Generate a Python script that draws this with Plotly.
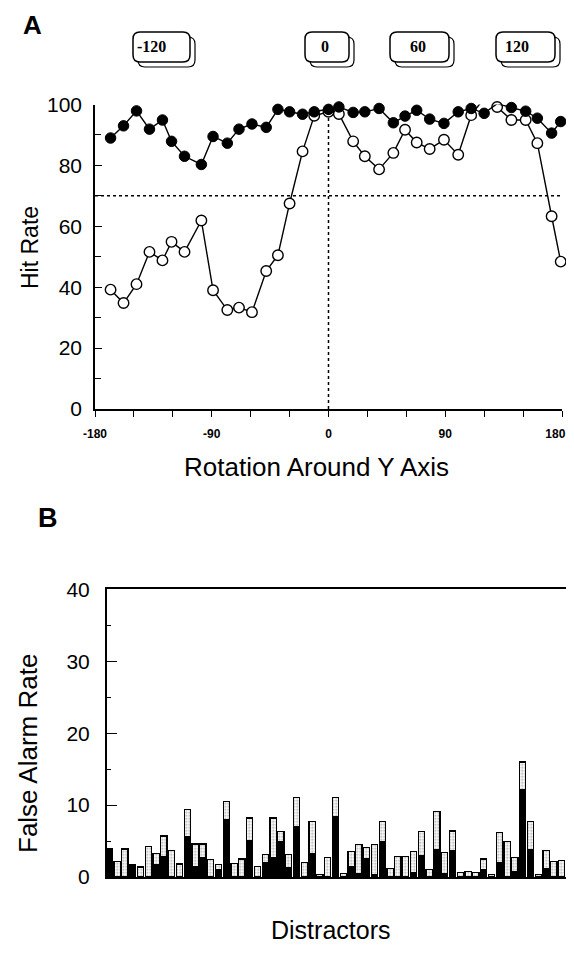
import plotly.graph_objects as go

W, H = 574, 942
OFF = 8  # page body margin of the html page

def fx(p):
    return (p - OFF) / W

def fy(p):
    return 1 - (p - OFF) / H

# ---------------- Panel A data ----------------
angles = [-168, -158, -148, -138, -128, -121, -111, -98, -89, -78, -69, -59,
          -48, -39, -30, -20, -11, 0, 8, 19, 28, 39, 50, 59,
          68, 78, 89, 100, 110, 120, 130, 141, 152, 161, 172, 179]
hit_filled = [89.0, 93.0, 97.9, 91.9, 94.9, 87.9, 83.0, 80.3, 89.5, 87.3, 91.9, 93.6,
              92.5, 98.4, 97.6, 96.8, 97.6, 98.4, 99.2, 97.4, 97.6, 98.7, 94.0, 96.2,
              98.1, 95.2, 93.8, 97.6, 98.7, 97.1, 100.3, 99.0, 97.8, 95.5, 90.6, 94.4]
hit_open = [39.2, 34.8, 41.0, 51.6, 48.8, 54.9, 51.6, 61.9, 39.0, 32.5, 33.3, 31.8,
            45.3, 50.5, 67.5, 84.6, 96.3, 97.6, 96.9, 87.9, 83.0, 78.7, 84.1, 91.7,
            87.5, 85.4, 88.4, 83.5, 96.5, 102.1, 99.2, 94.9, 94.9, 87.3, 63.3, 48.4]
x_ticks_a = [-180, -90, 0, 90, 180]
y_ticks_a = [0, 20, 40, 60, 80, 100]
view_labels = ["-120", "0", "60", "120"]

# ---------------- Panel B data ----------------
distractors = list(range(1, 61))
fa_total = [4.0, 2.2, 3.9, 1.7, 1.4, 4.2, 3.3, 5.7, 3.7, 1.8, 9.4, 4.6,
            4.6, 2.4, 1.7, 10.5, 1.9, 2.5, 8.2, 1.5, 3.1, 8.2, 6.3, 3.1,
            11.0, 2.0, 7.7, 0.4, 2.7, 11.0, 0.5, 3.5, 4.5, 4.1, 4.5, 7.7,
            1.2, 2.9, 2.9, 3.5, 6.3, 1.0, 9.1, 3.4, 6.4, 0.6, 0.8, 0.6,
            2.5, 0.4, 6.2, 4.9, 2.7, 16.0, 7.7, 0.3, 3.7, 2.2, 2.3, 11.1]
fa_black = [4.0, 0.0, 0.0, 1.7, 0.0, 0.0, 1.7, 2.8, 0.0, 0.0, 5.6, 1.5,
            2.7, 0.0, 1.0, 8.0, 0.0, 0.0, 5.0, 0.0, 2.0, 2.7, 4.9, 1.3,
            7.0, 0.0, 3.3, 0.0, 0.0, 8.4, 0.0, 1.5, 0.5, 2.5, 0.3, 4.9,
            0.0, 0.0, 0.0, 0.6, 3.0, 0.0, 3.8, 0.5, 3.7, 0.0, 0.0, 0.0,
            1.0, 0.0, 2.0, 0.0, 0.7, 12.1, 3.8, 0.0, 1.2, 0.0, 0.0, 8.0]
fa_dotted = [round(t - b, 2) for t, b in zip(fa_total, fa_black)]
y_ticks_b = [0, 10, 20, 30, 40]

FONT = "Liberation Sans, Arial, Helvetica, sans-serif"

fig = go.Figure()

fig.add_trace(go.Scatter(
    x=angles, y=hit_open, mode="lines+markers", xaxis="x", yaxis="y",
    line=dict(color="black", width=1.4),
    marker=dict(symbol="circle", size=10.5, color="white",
                line=dict(color="black", width=1.4)),
    cliponaxis=False, showlegend=False))
fig.add_trace(go.Scatter(
    x=angles, y=hit_filled, mode="lines+markers", xaxis="x", yaxis="y",
    line=dict(color="black", width=1.4),
    marker=dict(symbol="circle", size=10.5, color="black",
                line=dict(color="black", width=1)),
    cliponaxis=False, showlegend=False))

fig.add_trace(go.Bar(
    x=distractors, y=fa_black, xaxis="x2", yaxis="y2",
    marker=dict(color="black", line=dict(color="black", width=1)),
    width=0.8, showlegend=False))
fig.add_trace(go.Bar(
    x=distractors, y=fa_dotted, xaxis="x2", yaxis="y2",
    marker=dict(color="white", line=dict(color="black", width=1.2),
                pattern=dict(shape=".", fgcolor="#555555", bgcolor="white",
                             size=3, solidity=0.35)),
    width=0.8, showlegend=False))

# target pixel geometry (screen coordinates)
ax_l, ax_r = 95, 562
ay_top, ay_bot = 104.5, 409
bx_l = 106.7
by_top, by_bot = 589.3, 877
bar_step = 7.8
first_bar_px = 109.3
right_px = OFF + W
x2_lo = 1 - (first_bar_px - bx_l) / bar_step
x2_hi = x2_lo + (right_px - bx_l) / bar_step

# last tick label nudged left (trailing no-break spaces) so it stays on screen
x_tick_text = [f"<b>{v}</b>" for v in x_ticks_a]
x_tick_text[-1] = x_tick_text[-1] + "\u00a0" * 4

fig.update_layout(
    width=W, height=H, autosize=False,
    margin=dict(l=0, r=0, t=0, b=0, pad=0, autoexpand=False),
    paper_bgcolor="white", plot_bgcolor="white",
    font=dict(family=FONT, color="black"),
    barmode="stack", bargap=0.2,
    xaxis=dict(domain=[fx(ax_l), fx(ax_r)], range=[-180, 180], automargin=False,
               anchor="y", showgrid=False, zeroline=False,
               showline=True, linecolor="black", linewidth=1.5,
               tickvals=x_ticks_a, ticktext=x_tick_text,
               ticks="outside", ticklen=6, tickwidth=1.3,
               tickcolor="black", ticklabelstandoff=7,
               tickfont=dict(size=12, family=FONT, color="black"),
               minor=dict(dtick=30, tick0=0, ticks="outside", ticklen=6,
                          tickwidth=1.3, tickcolor="black", showgrid=False)),
    yaxis=dict(domain=[fy(ay_bot), fy(ay_top)], range=[0, 100], automargin=False,
               anchor="x", showgrid=False, zeroline=False,
               showline=True, linecolor="black", linewidth=1.5,
               tickvals=y_ticks_a, ticks="inside", ticklen=7, tickwidth=1.3,
               tickcolor="black", ticklabelstandoff=7,
               tickfont=dict(size=21, color="black"),
               minor=dict(dtick=10, tick0=0, ticks="inside", ticklen=6,
                          tickwidth=1.3, tickcolor="black", showgrid=False)),
    xaxis2=dict(domain=[fx(bx_l), 1.0], range=[x2_lo, x2_hi], automargin=False,
                anchor="y2", showgrid=False, zeroline=False,
                showline=True, linecolor="black", linewidth=1.5, mirror=True,
                showticklabels=False, ticks=""),
    yaxis2=dict(domain=[fy(by_bot), fy(by_top)], range=[0, 40], automargin=False,
                anchor="x2", showgrid=False, zeroline=False,
                showline=True, linecolor="black", linewidth=1.5,
                tickvals=y_ticks_b, ticks="inside", ticklen=11, tickwidth=1.3,
                tickcolor="black", ticklabelstandoff=11,
                tickfont=dict(size=21, color="black"),
                minor=dict(dtick=5, tick0=0, ticks="inside", ticklen=5,
                           tickwidth=1.3, tickcolor="black", showgrid=False)),
)

fig.add_shape(type="line", xref="x", yref="y", x0=-180, x1=180, y0=70, y1=70,
              line=dict(color="black", width=1.5, dash="dot"))
fig.add_shape(type="line", xref="x", yref="y", x0=0, x1=0, y0=0, y1=103,
              line=dict(color="black", width=1.5, dash="dot"))

def rrect(x0, y0, x1, y1, r):
    return (f"M {fx(x0 + r)},{fy(y0)} L {fx(x1 - r)},{fy(y0)} "
            f"Q {fx(x1)},{fy(y0)} {fx(x1)},{fy(y0 + r)} "
            f"L {fx(x1)},{fy(y1 - r)} Q {fx(x1)},{fy(y1)} {fx(x1 - r)},{fy(y1)} "
            f"L {fx(x0 + r)},{fy(y1)} Q {fx(x0)},{fy(y1)} {fx(x0)},{fy(y1 - r)} "
            f"L {fx(x0)},{fy(y0 + r)} Q {fx(x0)},{fy(y0)} {fx(x0 + r)},{fy(y0)} Z")

card_x = [(133, 190), (305, 349), (390, 449), (496, 555)]
text_cx = [151, 325, 418, 517]
for (x0, x1), tc, lab in zip(card_x, text_cx, view_labels):
    fig.add_shape(type="path", xref="paper", yref="paper",
                  path=rrect(x0 + 5, 37, x1 + 5, 67, 7),
                  line=dict(color="black", width=1.2), fillcolor="white")
    fig.add_shape(type="path", xref="paper", yref="paper",
                  path=rrect(x0, 32, x1, 62, 7),
                  line=dict(color="black", width=1.5), fillcolor="white")
    fig.add_annotation(x=fx(tc), y=fy(47), xref="paper", yref="paper",
                       xanchor="center", yanchor="middle",
                       text=f"<b>{lab}</b>", showarrow=False,
                       font=dict(family="Liberation Serif, Times New Roman, serif", size=16, color="black"))

def ann(text, x, y, size, angle=0, bold=False, yanchor="middle"):
    fig.add_annotation(x=fx(x), y=fy(y), xref="paper", yref="paper",
                       xanchor="center", yanchor=yanchor,
                       text=f"<b>{text}</b>" if bold else text, showarrow=False,
                       textangle=angle, font=dict(size=size, family=FONT, color="black"))

ann("A", 32, OFF, 26, bold=True, yanchor="top")
ann("B", 48, 518, 27, bold=True)
ann("Hit Rate", 30, 248, 23, angle=-90)
ann("Rotation Around Y Axis", 316, 467, 26)
ann("False Alarm Rate", 28, 754, 26, angle=-90)
ann("Distractors", 330, 930, 25)

fig.write_html("out.html")
